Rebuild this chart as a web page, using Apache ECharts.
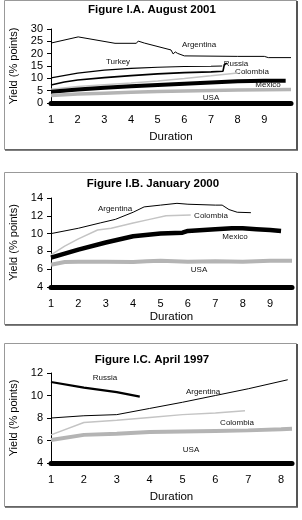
<!DOCTYPE html>
<html>
<head>
<meta charset="utf-8">
<script src="https://cdn.jsdelivr.net/npm/echarts@6/dist/echarts.min.js"></script>
<style>
  html, body { margin: 0; padding: 0; background: #fff; }
  #chart { width: 302px; height: 520px; }
</style>
</head>
<body>
<div id="chart"></div>
<script>
  // [duration, yield] pairs
  var aug01Argentina = [[1,24.3],[2.02,26.8],[3.4,24.2],[4.2,24.2],[4.27,25.1],[4.5,24.3],[5.5,21.5],[5.58,19.9],[5.66,20.7],[5.75,20.1],[6.0,19.1],[7,19.0],[8,18.9],[9,18.9],[9.15,18.4],[10,18.4]];
  var aug01Turkey = [[1,10.2],[2,12.1],[3,13.3],[4,14.0],[5,14.5],[6,14.8],[7,14.9],[7.42,15.0]];
  var aug01Russia = [[1,7.3],[1.5,8.5],[2,9.3],[3,10.3],[4,11.1],[5,11.8],[6,12.3],[7,12.6],[7.45,12.9],[7.5,15.6],[7.6,16.1]];
  var aug01Colombia = [[1,5.6],[2,6.7],[3,7.4],[4,8.1],[5,8.9],[6,9.9],[7,11.0],[8,12.2]];
  var aug01Mexico = [[1,4.6],[2,5.5],[3,6.2],[4,6.8],[5,7.3],[6,7.8],[7,8.3],[7.6,8.6],[8,8.8],[9,9.0],[9.8,9.0]];
  var aug01USA = [[1,3.0],[2,3.6],[3,4.0],[4,4.4],[5,4.7],[6,4.9],[7,5.1],[8,5.3],[9,5.4],[10,5.5]];

  var jan00Argentina = [[1,10.0],[2,10.6],[2.8,11.2],[3.35,11.6],[4,12.4],[4.4,13.0],[5,13.2],[5.6,13.4],[6,13.3],[7,13.2],[7.25,13.2],[7.5,12.7],[7.8,12.4],[8.3,12.35]];
  var jan00Colombia = [[1,7.6],[1.5,8.6],[2,9.4],[2.7,10.4],[3.2,10.6],[4,11.2],[4.6,11.6],[5.2,12.0],[6.1,12.1]];
  var jan00Mexico = [[1,7.3],[2,8.2],[3,9.0],[4,9.7],[5,10.0],[5.8,10.1],[6,10.3],[7,10.5],[7.6,10.6],[8,10.6],[8.5,10.5],[9,10.4],[9.4,10.3]];
  var jan00USA = [[1,6.5],[1.5,6.8],[2,6.85],[3,6.85],[4,6.8],[4.5,6.9],[5,6.95],[6,6.85],[7,6.9],[8,6.85],[9,6.95],[9.8,6.95]];

  var apr97Russia = [[1,11.2],[2,10.7],[3,10.3],[3.7,9.9]];
  var apr97Argentina = [[1,8.0],[2,8.2],[3,8.3],[4,8.85],[5,9.4],[6,10.0],[7,10.6],[8.2,11.4]];
  var apr97Colombia = [[1,6.5],[2,7.6],[3,7.8],[4,8.05],[5,8.3],[6,8.45],[6.9,8.65]];
  var apr97USA = [[1,6.05],[2,6.5],[3,6.6],[4,6.75],[5,6.8],[6,6.85],[7,6.9],[8,7.0],[8.33,7.05]];

  var panelTitles = ['Figure I.A. August 2001', 'Figure I.B. January 2000', 'Figure I.C. April 1997'];

  var fontFam = 'Liberation Sans, Arial, sans-serif';
  var mychart = echarts.init(document.getElementById('chart'));

  function xAx(idx, max, gap) {
    return {
      type: 'value', gridIndex: idx, min: 1, max: max, interval: 1,
      name: 'Duration', nameLocation: 'middle', nameGap: gap,
      nameTextStyle: { color: '#000', fontSize: 11.5, fontFamily: fontFam },
      axisLine: { lineStyle: { color: '#000', width: 5 } },
      axisTick: { show: false },
      splitLine: { show: false },
      axisLabel: { color: '#000', fontSize: 11, fontFamily: fontFam, margin: 11, showMaxLabel: false,
        formatter: function (v) { return v === Math.round(v) ? String(v) : ''; } }
    };
  }
  function yAx(idx, min, max, step) {
    return {
      type: 'value', gridIndex: idx, min: min, max: max, interval: step,
      name: 'Yield (% points)', nameLocation: 'middle', nameGap: 25, nameRotate: 90,
      nameTextStyle: { color: '#000', fontSize: 11, fontFamily: fontFam },
      axisLine: { show: true, lineStyle: { color: '#000', width: 1 } },
      axisTick: { show: true, length: 4, lineStyle: { color: '#000' } },
      splitLine: { show: false },
      axisLabel: { color: '#000', fontSize: 11, fontFamily: fontFam, margin: 8 }
    };
  }
  function ln(idx, data, color, width) {
    return {
      type: 'line', xAxisIndex: idx, yAxisIndex: idx, data: data,
      symbol: 'none', silent: true,
      lineStyle: { color: color, width: width }
    };
  }
  function tag(txt, x, y) {
    return {
      type: 'text', x: x, y: y,
      style: { text: txt, fill: '#111', font: '8px ' + fontFam, align: 'center', verticalAlign: 'middle' }
    };
  }
  function box(y, h) {
    return [
      { type: 'rect', shape: { x: 4.5, y: y + 0.5, width: 292, height: h }, style: { fill: 'none', stroke: '#999', lineWidth: 1 } },
      { type: 'line', shape: { x1: 297, y1: y + 1, x2: 297, y2: y + h + 1 }, style: { stroke: '#555', lineWidth: 2 } },
      { type: 'line', shape: { x1: 5, y1: y + h + 1, x2: 298, y2: y + h + 1 }, style: { stroke: '#555', lineWidth: 1.5 } }
    ];
  }

  var option = {
    animation: false,
    backgroundColor: '#fff',
    title: [
      { text: panelTitles[0], left: 152, top: 4, textAlign: 'center' },
      { text: panelTitles[1], left: 153, top: 178, textAlign: 'center' },
      { text: panelTitles[2], left: 152, top: 354, textAlign: 'center' }
    ].map(function (t) {
      t.textStyle = { fontSize: 11.5, fontWeight: 'bold', color: '#000', fontFamily: fontFam };
      t.padding = 0;
      return t;
    }),
    grid: [
      { left: 51, top: 29, width: 240, height: 74 },
      { left: 51, top: 198, width: 241, height: 89 },
      { left: 51, top: 373, width: 241, height: 90 }
    ],
    xAxis: [xAx(0, 10, 28), xAx(1, 9.8, 24), xAx(2, 8.33, 28)],
    yAxis: [yAx(0, 0, 30, 5), yAx(1, 4, 14, 2), yAx(2, 4, 12, 2)],
    series: [
      ln(0, aug01Argentina, '#000', 1),
      ln(0, aug01Turkey, '#000', 1.2),
      ln(0, aug01Russia, '#000', 1.6),
      ln(0, aug01Colombia, '#c4c4c4', 1.5),
      ln(0, aug01Mexico, '#000', 4),
      ln(0, aug01USA, '#b4b4b4', 3.5),

      ln(1, jan00Argentina, '#000', 1),
      ln(1, jan00Colombia, '#c4c4c4', 1.5),
      ln(1, jan00Mexico, '#000', 4.5),
      ln(1, jan00USA, '#b4b4b4', 4),

      ln(2, apr97Russia, '#000', 2.2),
      ln(2, apr97Argentina, '#000', 1),
      ln(2, apr97Colombia, '#c4c4c4', 1.5),
      ln(2, apr97USA, '#b4b4b4', 4)
    ],
    graphic: [].concat(
      box(0, 149), box(172, 152), box(343, 163),
      [
        tag('Argentina', 199, 45), tag('Turkey', 118, 62), tag('Russia', 236, 64),
        tag('Colombia', 252, 72), tag('Mexico', 268, 85), tag('USA', 211, 98),
        tag('Argentina', 115, 209), tag('Colombia', 211, 216), tag('Mexico', 235, 237), tag('USA', 199, 270),
        tag('Russia', 105, 378), tag('Argentina', 203, 392), tag('Colombia', 237, 423), tag('USA', 191, 450)
      ]
    )
  };

  mychart.setOption(option);
</script>
</body>
</html>
